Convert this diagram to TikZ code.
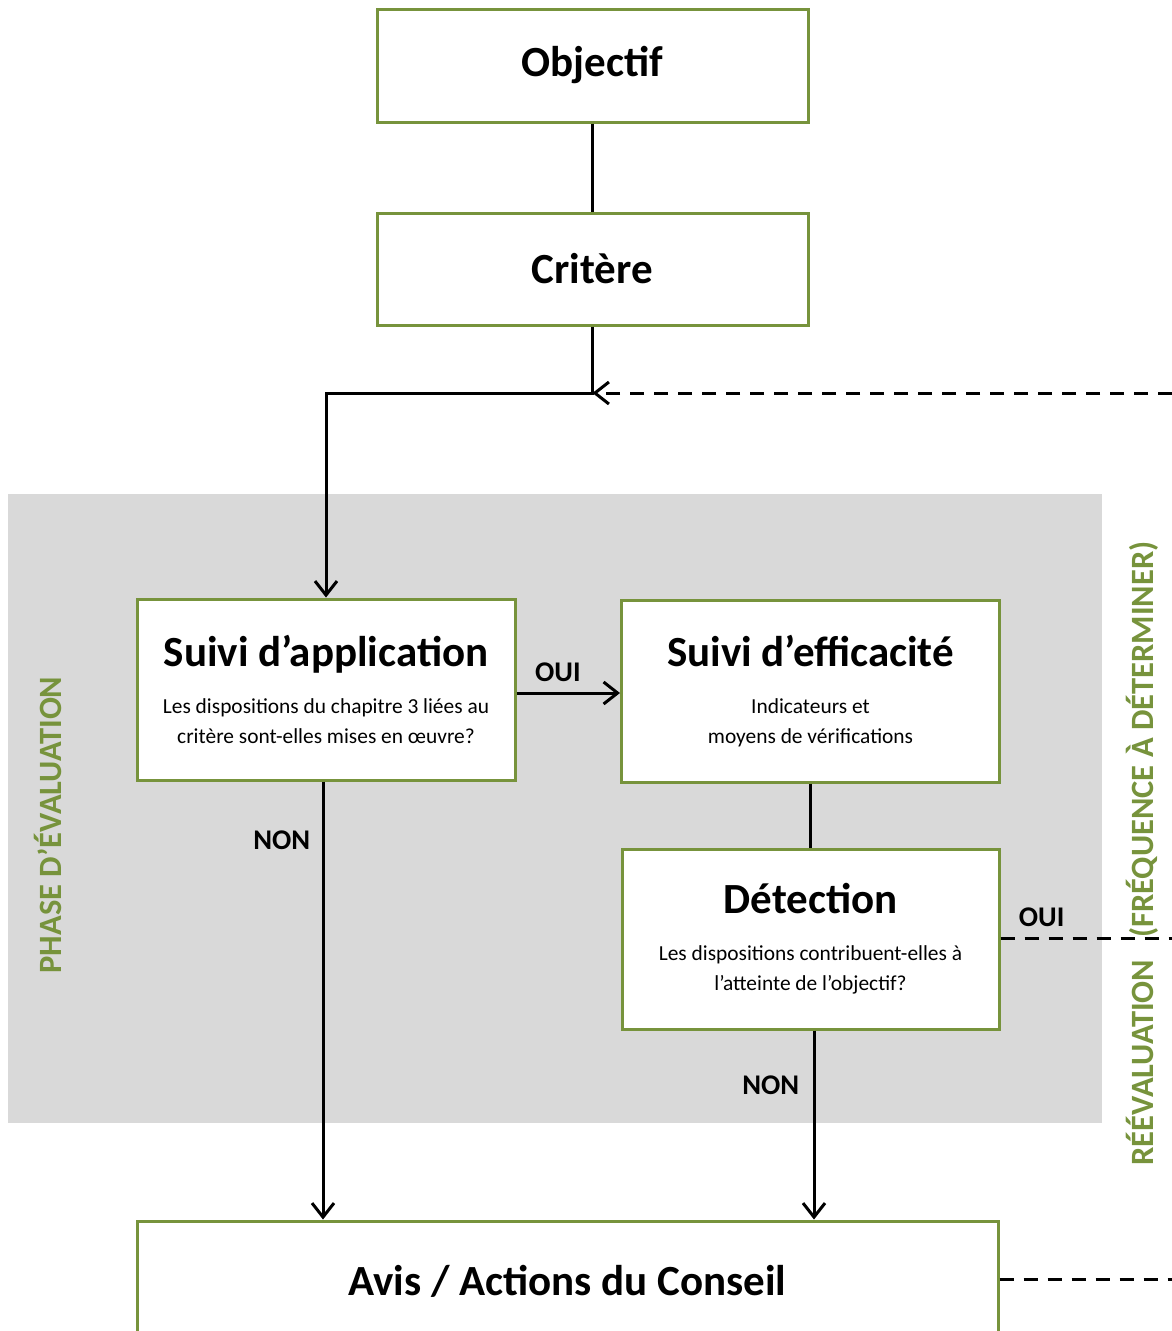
\documentclass[tikz,border=0pt]{standalone}
\usepackage{fontspec}
\setmainfont{Carlito}
\usetikzlibrary{arrows.meta}
\definecolor{vert}{RGB}{119,147,60}
\definecolor{gris}{RGB}{217,217,217}

\begin{document}
\begin{tikzpicture}[x=1pt,y=-1pt,>={Straight Barb[length=14pt,width=22pt]},
  boite/.style={draw=vert,line width=3pt,fill=white,align=center,inner sep=0pt},
  petit/.style={font=\fontsize{21.4}{30}\selectfont},
  titre/.style={font=\fontsize{43}{48}\selectfont\bfseries},
  etiq/.style={font=\fontsize{28.5}{32}\selectfont\bfseries},
  fleche/.style={->,line width=3pt},
  tirets/.style={line width=3pt,dash pattern=on 14pt off 10pt},
  phase/.style={rotate=90,text=vert,font=\fontsize{32.5}{36}\selectfont\bfseries}]

  % cadre
  \clip (0,0) rectangle (1172,1331);
  \fill[white] (0,0) rectangle (1172,1331);

  % zone grise
  \fill[gris] (8,494) rectangle (1102,1123);

  % boites
  \node[boite,titre,minimum width=431pt,minimum height=113pt] (obj) at (592.5,65.5) {Objectif};
  \node[boite,titre,minimum width=431pt,minimum height=112pt] (crit) at (592.5,269) {Critère};
  \node[boite,petit,minimum width=378pt,minimum height=181pt] (app) at (326,689.5)
    {{\fontsize{43}{48}\selectfont\bfseries Suivi d’application}\\[17pt]
     Les dispositions du chapitre 3 liées au\\ critère sont-elles mises en œuvre?};
  \node[boite,petit,minimum width=378pt,minimum height=182pt] (eff) at (810.5,691)
    {{\fontsize{43}{48}\selectfont\bfseries Suivi d’efficacité}\\[17pt]
     Indicateurs et\\ moyens de vérifications};
  \node[boite,petit,minimum width=377pt,minimum height=180pt] (det) at (810.5,939)
    {{\fontsize{43}{48}\selectfont\bfseries Détection}\\[17pt]
     Les dispositions contribuent-elles à\\ l’atteinte de l’objectif?};
  \node[boite,titre,minimum width=861pt,minimum height=120pt] (avis) at (567.5,1281)
    {Avis / Actions du Conseil};

  % textes verticaux
  \node[phase] (phaseEval) at (48,825) {PHASE D’ÉVALUATION};
  \node[phase] (reeval) at (1142,853.5) {RÉÉVALUATION\hspace{22pt}(FRÉQUENCE À DÉTERMINER)};

  % points
  \coordinate (jonction) at (592.5,393);
  \coordinate (bordH) at (1172,393);
  \coordinate (bordM) at (1172,938);
  \coordinate (bordB) at (1172,1279);

  % liens
  \draw[line width=3pt] (obj) -- (crit);
  \draw[fleche] (crit) -- (jonction) -| (app);
  \draw[fleche,tirets] (bordH) -- (jonction);
  \draw[fleche] (app.east |- 0,693) -- (eff.west |- 0,693)
    node[etiq,pos=0.4,above=6pt] (oui1) {OUI};
  \draw[line width=3pt] (eff) -- (det);
  \draw[fleche] (app.south -| 323,0) -- (avis.north -| 323,0)
    node[etiq,pos=0.134,left=8pt] (non1) {NON};
  \draw[fleche] (det.south -| 814,0) -- (avis.north -| 814,0)
    node[etiq,pos=0.29,left=10pt] (non2) {NON};
  \draw[tirets] (det.east |- 0,938) -- (bordM)
    node[etiq,pos=0.24,above=6pt] (oui2) {OUI};
  \draw[tirets] (avis.east |- 0,1279) -- (bordB);

\end{tikzpicture}
\end{document}
